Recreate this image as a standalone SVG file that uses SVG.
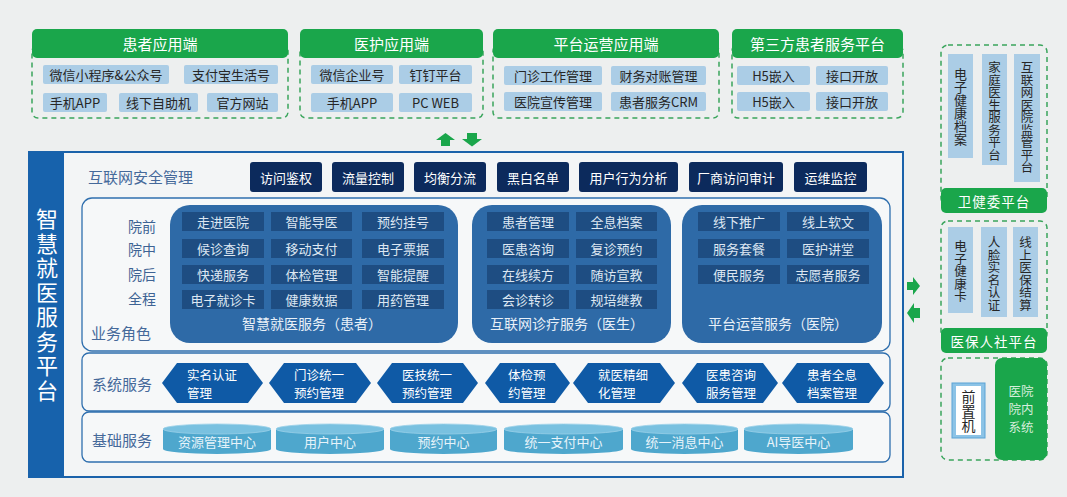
<svg xmlns="http://www.w3.org/2000/svg" width="1067" height="497" viewBox="0 0 1067 497">
<defs>
<style>
text{font-family:"Noto Sans CJK SC","Noto Sans",sans-serif;dominant-baseline:central;}
.hdr{fill:#1aa64b;}
.hdrt{fill:#ffffff;font-size:15px;text-anchor:middle;}
.hdrs{fill:#ffffff;font-size:13.5px;text-anchor:middle;letter-spacing:1px;}
.dash{fill:none;stroke:#3aa55c;stroke-width:1.5;stroke-dasharray:5 4;}
.lb{fill:#abcde6;}
.lbt{fill:#262626;font-size:13px;text-anchor:middle;}
.vt{fill:#262626;font-size:12.5px;writing-mode:vertical-rl;text-anchor:start;}
.sec{fill:#0c2a5c;}
.sect{fill:#ffffff;font-size:13px;text-anchor:middle;}
.pnl{fill:#f6f8f9;stroke:#2f6fae;stroke-width:1.3;}
.bp{fill:#2e6aa7;}
.bi{fill:#1e4d82;}
.bit{fill:#dde7f2;font-size:13px;text-anchor:middle;}
.bpt{fill:#e8f0f8;font-size:14px;text-anchor:middle;}
.lab{fill:#45699a;font-size:15px;}
.side{fill:#3d6394;font-size:14px;text-anchor:end;}
.hex{fill:#0f5aa6;}
.hext{fill:#ffffff;font-size:12.5px;}
.cyl{fill:#4ea7cd;}
.cylt{fill:#79c1e0;stroke:#9ad0e8;stroke-width:0.8;}
.cyltx{fill:#e6f3fa;font-size:13px;text-anchor:middle;}
.arr{fill:#1aa64b;}
</style>
</defs>
<rect x="0" y="0" width="1067" height="497" fill="#edefef"/>

<!-- top application ends -->
<g id="patient-app">
<rect class="dash" x="32" y="45" width="256" height="73" rx="6"/>
<rect class="hdr" x="32" y="29" width="256" height="29" rx="5"/>
<text class="hdrt" x="160" y="43.5">患者应用端</text>
<rect class="lb" x="43" y="65" width="126" height="19" rx="2"/><text class="lbt" x="106" y="74.5">微信小程序&amp;公众号</text>
<rect class="lb" x="184" y="65" width="94" height="19" rx="2"/><text class="lbt" x="231" y="74.5">支付宝生活号</text>
<rect class="lb" x="43" y="93" width="64" height="19" rx="2"/><text class="lbt" x="75" y="102.5">手机APP</text>
<rect class="lb" x="119" y="93" width="79" height="19" rx="2"/><text class="lbt" x="158.5" y="102.5">线下自助机</text>
<rect class="lb" x="207" y="93" width="71" height="19" rx="2"/><text class="lbt" x="242.5" y="102.5">官方网站</text>
</g>
<g id="medical-app">
<rect class="dash" x="300" y="45" width="183" height="73" rx="6"/>
<rect class="hdr" x="300" y="29" width="183" height="29" rx="5"/>
<text class="hdrt" x="391.5" y="43.5">医护应用端</text>
<rect class="lb" x="311" y="65" width="82" height="19" rx="2"/><text class="lbt" x="352" y="74.5">微信企业号</text>
<rect class="lb" x="399" y="65" width="73" height="19" rx="2"/><text class="lbt" x="435.5" y="74.5">钉钉平台</text>
<rect class="lb" x="311" y="93" width="82" height="19" rx="2"/><text class="lbt" x="352" y="102.5">手机APP</text>
<rect class="lb" x="399" y="93" width="73" height="19" rx="2"/><text class="lbt" x="435.5" y="102.5">PC WEB</text>
</g>
<g id="ops-app">
<rect class="dash" x="493" y="45" width="226" height="73" rx="6"/>
<rect class="hdr" x="493" y="29" width="226" height="29" rx="5"/>
<text class="hdrt" x="606" y="43.5">平台运营应用端</text>
<rect class="lb" x="504" y="66" width="98" height="19" rx="2"/><text class="lbt" x="553" y="75.5">门诊工作管理</text>
<rect class="lb" x="611" y="66" width="95" height="19" rx="2"/><text class="lbt" x="658.5" y="75.5">财务对账管理</text>
<rect class="lb" x="504" y="92" width="98" height="19" rx="2"/><text class="lbt" x="553" y="101.5">医院宣传管理</text>
<rect class="lb" x="611" y="92" width="95" height="19" rx="2"/><text class="lbt" x="658.5" y="101.5">患者服务CRM</text>
</g>
<g id="third-party">
<rect class="dash" x="732" y="45" width="171" height="73" rx="6"/>
<rect class="hdr" x="732" y="29" width="171" height="29" rx="5"/>
<text class="hdrt" x="817.5" y="43.5">第三方患者服务平台</text>
<rect class="lb" x="737" y="66" width="73" height="19" rx="2"/><text class="lbt" x="773.5" y="75.5">H5嵌入</text>
<rect class="lb" x="816" y="66" width="72" height="19" rx="2"/><text class="lbt" x="852" y="75.5">接口开放</text>
<rect class="lb" x="737" y="92" width="73" height="19" rx="2"/><text class="lbt" x="773.5" y="101.5">H5嵌入</text>
<rect class="lb" x="816" y="92" width="72" height="19" rx="2"/><text class="lbt" x="852" y="101.5">接口开放</text>
</g>

<!-- connectors (arrows) -->
<g id="connectors">
<polygon class="arr" points="445.5,133 455,140 450,140 450,146 441,146 441,140 436,140"/>
<polygon class="arr" points="467,133 477,133 477,139 482,139 472,146.5 462,139 467,139"/>
<polygon class="arr" points="907,282 913,282 913,277 920,286 913,295 913,290 907,290"/>
<polygon class="arr" points="920,308 914,308 914,303 907,313 914,323 914,318 920,318"/>
</g>

<!-- main platform frame -->
<g id="main-platform">
<rect x="29" y="152" width="874" height="325" fill="#f3f5f6" stroke="#1a62aa" stroke-width="2"/>
<rect x="29" y="152" width="35" height="326" fill="#1762ac"/>
<text x="47" y="208" fill="#ffffff" font-size="22" style="writing-mode:vertical-rl;letter-spacing:2.5px">智慧就医服务平台</text>
</g>

<g id="security">
<text class="lab" x="88" y="176">互联网安全管理</text>
<rect class="sec" x="250" y="162" width="72" height="30" rx="3"/><text class="sect" x="286" y="177">访问鉴权</text>
<rect class="sec" x="332" y="162" width="72" height="30" rx="3"/><text class="sect" x="368" y="177">流量控制</text>
<rect class="sec" x="414" y="162" width="72" height="30" rx="3"/><text class="sect" x="450" y="177">均衡分流</text>
<rect class="sec" x="497" y="162" width="72" height="30" rx="3"/><text class="sect" x="533" y="177">黑白名单</text>
<rect class="sec" x="579" y="162" width="99" height="30" rx="3"/><text class="sect" x="628.5" y="177">用户行为分析</text>
<rect class="sec" x="689" y="162" width="94" height="30" rx="3"/><text class="sect" x="736" y="177">厂商访问审计</text>
<rect class="sec" x="794" y="162" width="73" height="30" rx="3"/><text class="sect" x="830.5" y="177">运维监控</text>
</g>

<g id="business">
<rect class="pnl" x="82" y="198" width="808" height="153" rx="10"/>
<text class="side" x="156" y="226">院前</text>
<text class="side" x="156" y="249">院中</text>
<text class="side" x="156" y="274">院后</text>
<text class="side" x="156" y="298">全程</text>
<text class="lab" x="91" y="332">业务角色</text>
</g>

<g id="patient-service">
<rect class="bp" x="170" y="205" width="288" height="138" rx="20"/>
<rect class="bi" x="182" y="212" width="82" height="19"/><text class="bit" x="223" y="221.5">走进医院</text>
<rect class="bi" x="271" y="212" width="81" height="19"/><text class="bit" x="311.5" y="221.5">智能导医</text>
<rect class="bi" x="362" y="212" width="82" height="19"/><text class="bit" x="403" y="221.5">预约挂号</text>
<rect class="bi" x="182" y="239" width="82" height="19"/><text class="bit" x="223" y="248.5">候诊查询</text>
<rect class="bi" x="271" y="239" width="81" height="19"/><text class="bit" x="311.5" y="248.5">移动支付</text>
<rect class="bi" x="362" y="239" width="82" height="19"/><text class="bit" x="403" y="248.5">电子票据</text>
<rect class="bi" x="182" y="265" width="82" height="19"/><text class="bit" x="223" y="274.5">快递服务</text>
<rect class="bi" x="271" y="265" width="81" height="19"/><text class="bit" x="311.5" y="274.5">体检管理</text>
<rect class="bi" x="362" y="265" width="82" height="19"/><text class="bit" x="403" y="274.5">智能提醒</text>
<rect class="bi" x="182" y="290" width="82" height="19"/><text class="bit" x="223" y="299.5">电子就诊卡</text>
<rect class="bi" x="271" y="290" width="81" height="19"/><text class="bit" x="311.5" y="299.5">健康数据</text>
<rect class="bi" x="362" y="290" width="82" height="19"/><text class="bit" x="403" y="299.5">用药管理</text>
<text class="bpt" x="312" y="323">智慧就医服务（患者）</text>
</g>

<g id="doctor-service">
<rect class="bp" x="472" y="205" width="199" height="138" rx="20"/>
<rect class="bi" x="487" y="212" width="82" height="19"/><text class="bit" x="528" y="221.5">患者管理</text>
<rect class="bi" x="576" y="212" width="81" height="19"/><text class="bit" x="616.5" y="221.5">全息档案</text>
<rect class="bi" x="487" y="239" width="82" height="19"/><text class="bit" x="528" y="248.5">医患咨询</text>
<rect class="bi" x="576" y="239" width="81" height="19"/><text class="bit" x="616.5" y="248.5">复诊预约</text>
<rect class="bi" x="487" y="265" width="82" height="19"/><text class="bit" x="528" y="274.5">在线续方</text>
<rect class="bi" x="576" y="265" width="81" height="19"/><text class="bit" x="616.5" y="274.5">随访宣教</text>
<rect class="bi" x="487" y="290" width="82" height="19"/><text class="bit" x="528" y="299.5">会诊转诊</text>
<rect class="bi" x="576" y="290" width="81" height="19"/><text class="bit" x="616.5" y="299.5">规培继教</text>
<text class="bpt" x="567" y="323">互联网诊疗服务（医生）</text>
</g>

<g id="hospital-service">
<rect class="bp" x="682" y="205" width="200" height="138" rx="20"/>
<rect class="bi" x="698" y="212" width="82" height="19"/><text class="bit" x="739" y="221.5">线下推广</text>
<rect class="bi" x="787" y="212" width="82" height="19"/><text class="bit" x="828" y="221.5">线上软文</text>
<rect class="bi" x="698" y="239" width="82" height="19"/><text class="bit" x="739" y="248.5">服务套餐</text>
<rect class="bi" x="787" y="239" width="82" height="19"/><text class="bit" x="828" y="248.5">医护讲堂</text>
<rect class="bi" x="698" y="265" width="82" height="19"/><text class="bit" x="739" y="274.5">便民服务</text>
<rect class="bi" x="787" y="265" width="82" height="19"/><text class="bit" x="828" y="274.5">志愿者服务</text>
<text class="bpt" x="778" y="323">平台运营服务（医院）</text>
</g>

<g id="system-services">
<rect class="pnl" x="82" y="353" width="808" height="58" rx="7"/>
<text class="lab" x="92" y="383">系统服务</text>
<polygon class="hex" points="162,383 177,363 248,363 263,383 248,403 177,403"/>
<text class="hext"><tspan x="187" y="374">实名认证</tspan><tspan x="187" y="392">管理</tspan></text>
<polygon class="hex" points="269,383 284,363 356,363 371,383 356,403 284,403"/>
<text class="hext"><tspan x="294" y="374">门诊统一</tspan><tspan x="294" y="392">预约管理</tspan></text>
<polygon class="hex" points="377,383 392,363 463,363 478,383 463,403 392,403"/>
<text class="hext"><tspan x="402" y="374">医技统一</tspan><tspan x="402" y="392">预约管理</tspan></text>
<polygon class="hex" points="485,383 500,363 555,363 570,383 555,403 500,403"/>
<text class="hext"><tspan x="508" y="374">体检预</tspan><tspan x="508" y="392">约管理</tspan></text>
<polygon class="hex" points="573,383 588,363 660,363 675,383 660,403 588,403"/>
<text class="hext"><tspan x="598" y="374">就医精细</tspan><tspan x="598" y="392">化管理</tspan></text>
<polygon class="hex" points="682,383 697,363 763,363 778,383 763,403 697,403"/>
<text class="hext"><tspan x="706" y="374">医患咨询</tspan><tspan x="706" y="392">服务管理</tspan></text>
<polygon class="hex" points="782,383 797,363 869,363 884,383 869,403 797,403"/>
<text class="hext"><tspan x="807" y="374">患者全息</tspan><tspan x="807" y="392">档案管理</tspan></text>
</g>

<g id="base-services">
<rect class="pnl" x="82" y="412" width="808" height="50" rx="7"/>
<text class="lab" x="92" y="439">基础服务</text>
<g id="cyl-resource">
<path class="cyl" d="M163,429 V449 A54,5 0 0 0 271,449 V429 Z"/><ellipse class="cylt" cx="217" cy="429" rx="54" ry="5"/>
<text class="cyltx" x="217" y="441">资源管理中心</text>
</g>
<g id="cyl-user">
<path class="cyl" d="M276,429 V449 A54,5 0 0 0 384,449 V429 Z"/><ellipse class="cylt" cx="330" cy="429" rx="54" ry="5"/>
<text class="cyltx" x="330" y="441">用户中心</text>
</g>
<g id="cyl-booking">
<path class="cyl" d="M390,429 V449 A53.5,5 0 0 0 497,449 V429 Z"/><ellipse class="cylt" cx="443.5" cy="429" rx="53.5" ry="5"/>
<text class="cyltx" x="443.5" y="441">预约中心</text>
</g>
<g id="cyl-pay">
<path class="cyl" d="M504,429 V449 A59.5,5 0 0 0 623,449 V429 Z"/><ellipse class="cylt" cx="563.5" cy="429" rx="59.5" ry="5"/>
<text class="cyltx" x="563.5" y="441">统一支付中心</text>
</g>
<g id="cyl-msg">
<path class="cyl" d="M631,429 V449 A53.5,5 0 0 0 738,449 V429 Z"/><ellipse class="cylt" cx="684.5" cy="429" rx="53.5" ry="5"/>
<text class="cyltx" x="684.5" y="441">统一消息中心</text>
</g>
<g id="cyl-ai">
<path class="cyl" d="M744,429 V449 A54.5,5 0 0 0 853,449 V429 Z"/><ellipse class="cylt" cx="798.5" cy="429" rx="54.5" ry="5"/>
<text class="cyltx" x="798.5" y="441">AI导医中心</text>
</g>
</g>

<!-- right side platforms -->
<g id="health-commission">
<rect class="dash" x="941" y="45" width="106" height="160" rx="7"/>
<rect class="lb" x="948" y="54" width="25" height="104"/>
<text class="vt" x="960.5" y="68" style="font-size:13px">电子健康档案</text>
<rect class="lb" x="982" y="54" width="25" height="111"/>
<text class="vt" x="994.5" y="61">家庭医生服务平台</text>
<rect class="lb" x="1014" y="54" width="26" height="128"/>
<text class="vt" x="1027" y="61">互联网医院监管平台</text>
<rect class="hdr" x="941" y="188" width="106" height="25" rx="5"/>
<text class="hdrs" x="994" y="200.5">卫健委平台</text>
</g>

<g id="medical-insurance">
<rect class="dash" x="941" y="221" width="106" height="120" rx="7"/>
<rect class="lb" x="948" y="227" width="25" height="86"/>
<text class="vt" x="960.5" y="240" style="font-size:12.5px">电子健康卡</text>
<rect class="lb" x="981" y="227" width="26" height="90"/>
<text class="vt" x="994" y="236">人脸实名认证</text>
<rect class="lb" x="1013" y="227" width="25" height="90"/>
<text class="vt" x="1025.5" y="236">线上医保结算</text>
<rect class="hdr" x="941" y="328" width="106" height="25" rx="5"/>
<text class="hdrs" x="994" y="340.5">医保人社平台</text>
</g>

<g id="hospital-internal">
<rect class="dash" x="941" y="358" width="106" height="102" rx="7"/>
<rect class="hdr" x="995" y="358" width="52" height="102" rx="7"/>
<text fill="#d6eedc" font-size="12.5" text-anchor="middle"><tspan x="1021" y="390">医院</tspan><tspan x="1021" y="408">院内</tspan><tspan x="1021" y="426">系统</tspan></text>
</g>
<g id="front-machine">
<rect x="952" y="383" width="33" height="55" fill="#8cc3e6" stroke="#5aa3d6" stroke-width="1"/>
<rect x="956" y="386" width="25" height="49" fill="#ffffff"/>
<text class="vt" x="968.5" y="390" style="font-size:14px;letter-spacing:0.5px">前置机</text>
</g>
</svg>
